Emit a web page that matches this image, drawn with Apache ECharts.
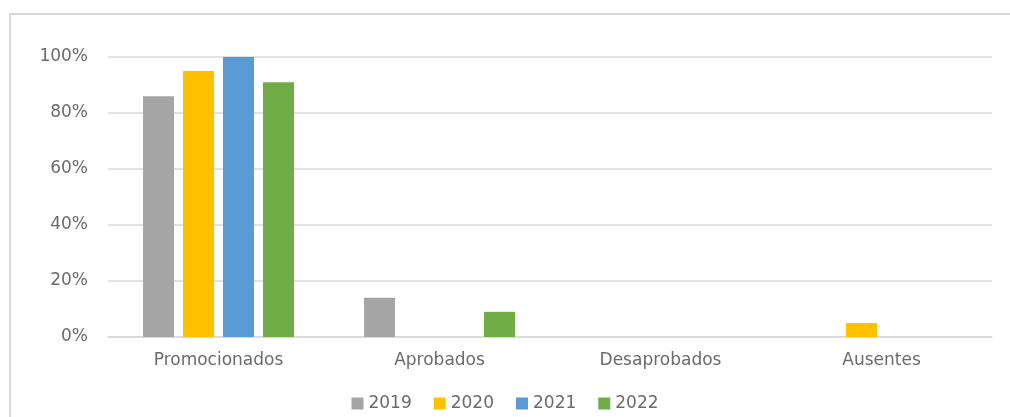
<!DOCTYPE html>
<html>
<head>
<meta charset="utf-8">
<script src="https://cdn.jsdelivr.net/npm/echarts@6/dist/echarts.min.js"></script>
<style>
html,body{margin:0;padding:0;background:#fff;}
#chart{width:1010px;height:417px;}
</style>
</head>
<body>
<div id="chart"></div>
<script>
const categories = ['Promocionados', 'Aprobados', 'Desaprobados', 'Ausentes'];
const years = ['2019', '2020', '2021', '2022'];
const values2019 = [86, 14, 0, 0];
const values2020 = [95, 0, 0, 5];
const values2021 = [100, 0, 0, 0];
const values2022 = [91, 9, 0, 0];
const yTicks = [0, 20, 40, 60, 80, 100];

const colors = ['#A5A5A5', '#FFC000', '#5B9BD5', '#70AD47'];
const allValues = [values2019, values2020, values2021, values2022];
const font = '"DejaVu Sans", Verdana, sans-serif';
const textColor = '#6b6b6b';

const chart = echarts.init(document.getElementById('chart'), null, {renderer: 'canvas'});
chart.setOption({
  animation: false,
  backgroundColor: '#ffffff',
  color: colors,
  graphic: [{
    type: 'rect',
    shape: {x: 10, y: 14, width: 1200, height: 600},
    style: {fill: 'none', stroke: '#D9D9D9', lineWidth: 2},
    silent: true
  }],
  grid: {left: 108, right: 18, top: 57, bottom: 80, containLabel: false},
  legend: {
    data: years,
    top: 390,
    left: 'center',
    itemWidth: 12,
    itemHeight: 12,
    itemGap: 22,
    icon: 'rect',
    textStyle: {color: textColor, fontFamily: font, fontSize: 17}
  },
  xAxis: {
    type: 'category',
    data: categories,
    axisLine: {show: true, lineStyle: {color: '#D9D9D9', width: 1.5}},
    axisTick: {show: false},
    axisLabel: {color: textColor, fontFamily: font, fontSize: 17, margin: 15}
  },
  yAxis: {
    type: 'value',
    min: yTicks[0],
    max: yTicks[yTicks.length - 1],
    interval: yTicks[1] - yTicks[0],
    axisLine: {show: false},
    axisTick: {show: false},
    splitLine: {lineStyle: {color: '#D9D9D9', width: 1.5}},
    axisLabel: {color: textColor, fontFamily: font, fontSize: 17, margin: 20, formatter: '{value}%'}
  },
  series: years.map((y, i) => ({
    name: y,
    type: 'bar',
    data: allValues[i],
    barWidth: 31,
    barGap: '29%',
    itemStyle: {color: colors[i]}
  }))
});
</script>
</body>
</html>
